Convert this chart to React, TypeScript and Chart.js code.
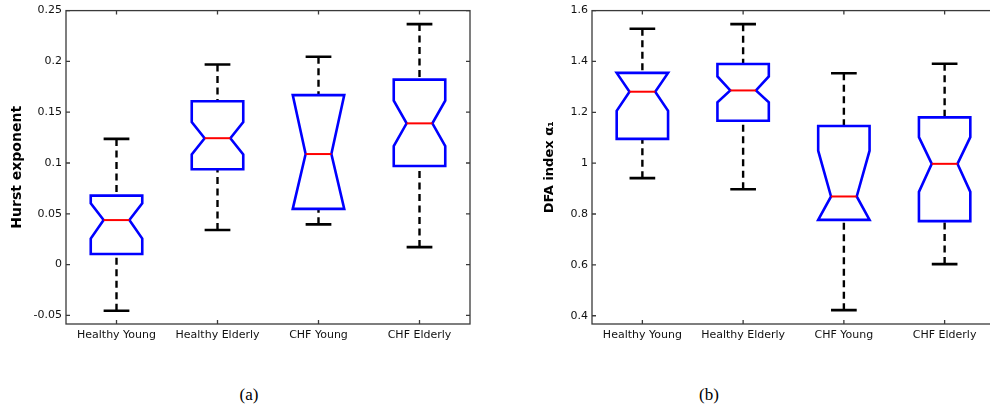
import React, { useEffect, useRef } from 'react';
import { Chart, registerables } from 'chart.js';

Chart.register(...registerables);

// ---------- data ----------
const categories = ['Healthy Young', 'Healthy Elderly', 'CHF Young', 'CHF Elderly'];

// (a) Hurst exponent
const hurstWhiskerLow = [-0.0455, 0.0341, 0.0396, 0.0172];
const hurstQ1 = [0.0104, 0.0938, 0.0548, 0.0971];
const hurstNotchLow = [0.0256, 0.1084, 0.05, 0.1166];
const hurstMedian = [0.0438, 0.1244, 0.1088, 0.139];
const hurstNotchHigh = [0.0604, 0.1402, 0.17, 0.1614];
const hurstQ3 = [0.0679, 0.1607, 0.1668, 0.1821];
const hurstWhiskerHigh = [0.1237, 0.197, 0.2045, 0.2367];

// (b) DFA index alpha1
const dfaWhiskerLow = [0.941, 0.8974, 0.422, 0.603];
const dfaQ1 = [1.0957, 1.167, 0.7769, 0.772];
const dfaNotchLow = [1.206, 1.2396, 0.69, 0.887];
const dfaMedian = [1.281, 1.286, 0.869, 0.9974];
const dfaNotchHigh = [1.356, 1.341, 1.049, 1.1023];
const dfaQ3 = [1.355, 1.39, 1.1463, 1.18];
const dfaWhiskerHigh = [1.5285, 1.5467, 1.3535, 1.391];

const hurstTicks = { min: -0.0585, max: 0.25, step: 0.05 };
const dfaTicks = { min: 0.3675, max: 1.6, step: 0.2 };

type Series = {
  lo: number[]; q1: number[]; nlo: number[]; med: number[]; nhi: number[]; q3: number[]; hi: number[];
};

const hurstSeries: Series = {
  lo: hurstWhiskerLow, q1: hurstQ1, nlo: hurstNotchLow, med: hurstMedian,
  nhi: hurstNotchHigh, q3: hurstQ3, hi: hurstWhiskerHigh,
};
const dfaSeries: Series = {
  lo: dfaWhiskerLow, q1: dfaQ1, nlo: dfaNotchLow, med: dfaMedian,
  nhi: dfaNotchHigh, q3: dfaQ3, hi: dfaWhiskerHigh,
};

// ---------- plugins ----------
function makeBoxPlugin(s: Series) {
  return {
    id: 'notchedBoxes',
    afterDatasetsDraw(chart: any) {
      const ctx = chart.ctx;
      const xs = chart.scales.x;
      const ys = chart.scales.y;
      const step = xs.getPixelForValue(1) - xs.getPixelForValue(0);
      const half = step * 0.255;
      const nh = half * 0.5;
      const cap = half * 0.5;
      ctx.save();
      for (let i = 0; i < categories.length; i++) {
        const xc = xs.getPixelForValue(i);
        const yq1 = ys.getPixelForValue(s.q1[i]);
        const yq3 = ys.getPixelForValue(s.q3[i]);
        const ymed = ys.getPixelForValue(s.med[i]);
        const ynlo = ys.getPixelForValue(Math.max(s.nlo[i], s.q1[i]));
        const ynhi = ys.getPixelForValue(Math.min(s.nhi[i], s.q3[i]));
        const ylo = ys.getPixelForValue(s.lo[i]);
        const yhi = ys.getPixelForValue(s.hi[i]);

        // whiskers (dashed)
        ctx.strokeStyle = '#000';
        ctx.lineWidth = 2.4;
        ctx.setLineDash([7, 4.5]);
        ctx.beginPath();
        ctx.moveTo(xc, yhi);
        ctx.lineTo(xc, yq3);
        ctx.moveTo(xc, ylo);
        ctx.lineTo(xc, yq1);
        ctx.stroke();
        ctx.setLineDash([]);
        // caps
        ctx.lineWidth = 2.6;
        ctx.beginPath();
        ctx.moveTo(xc - cap, yhi);
        ctx.lineTo(xc + cap, yhi);
        ctx.moveTo(xc - cap, ylo);
        ctx.lineTo(xc + cap, ylo);
        ctx.stroke();

        // notched box
        ctx.strokeStyle = '#0000ff';
        ctx.lineWidth = 2.6;
        ctx.lineJoin = 'miter';
        ctx.beginPath();
        ctx.moveTo(xc - half, yq1);
        ctx.lineTo(xc - half, ynlo);
        ctx.lineTo(xc - nh, ymed);
        ctx.lineTo(xc - half, ynhi);
        ctx.lineTo(xc - half, yq3);
        ctx.lineTo(xc + half, yq3);
        ctx.lineTo(xc + half, ynhi);
        ctx.lineTo(xc + nh, ymed);
        ctx.lineTo(xc + half, ynlo);
        ctx.lineTo(xc + half, yq1);
        ctx.closePath();
        ctx.stroke();

        // median
        ctx.strokeStyle = '#ff0000';
        ctx.lineWidth = 2;
        ctx.beginPath();
        ctx.moveTo(xc - nh, ymed);
        ctx.lineTo(xc + nh, ymed);
        ctx.stroke();
      }
      ctx.restore();
    },
  };
}

const framePlugin = {
  id: 'matlabFrame',
  afterDraw(chart: any) {
    const ctx = chart.ctx;
    const a = chart.chartArea;
    const xs = chart.scales.x;
    const ys = chart.scales.y;
    const tl = 4;
    ctx.save();
    ctx.strokeStyle = '#3a3a3a';
    ctx.lineWidth = 1.3;
    ctx.strokeRect(a.left, a.top, a.right - a.left, a.bottom - a.top);
    ctx.beginPath();
    ys.ticks.forEach((t: any) => {
      const y = ys.getPixelForValue(t.value);
      ctx.moveTo(a.left, y);
      ctx.lineTo(a.left + tl, y);
      ctx.moveTo(a.right, y);
      ctx.lineTo(a.right - tl, y);
    });
    categories.forEach((_, i) => {
      const x = xs.getPixelForValue(i);
      ctx.moveTo(x, a.bottom);
      ctx.lineTo(x, a.bottom - tl);
      ctx.moveTo(x, a.top);
      ctx.lineTo(x, a.top + tl);
    });
    ctx.stroke();
    ctx.restore();
  },
};

// ---------- chart component ----------
type PanelProps = {
  series: Series;
  range: { min: number; max: number; step: number };
  title: string;
  titleSize: number;
  titlePad: number;
  yAxisWidth: number;
  padRight: number;
  width: number;
  height: number;
  left: number;
};

const CHART_BOTTOM = 324;

function Panel(p: PanelProps) {
  const ref = useRef<HTMLCanvasElement | null>(null);
  useEffect(() => {
    if (!ref.current) return;
    const s = p.series;
    const chart = new Chart(ref.current, {
      type: 'bar',
      data: {
        labels: categories,
        datasets: [
          {
            data: categories.map((_, i) => [s.q1[i], s.q3[i]]) as any,
            backgroundColor: 'rgba(0,0,0,0)',
            borderWidth: 0,
          },
        ],
      },
      options: {
        responsive: false,
        animation: false,
        events: [],
        layout: { padding: { top: 7, right: p.padRight, left: 0, bottom: 0 } },
        plugins: { legend: { display: false }, tooltip: { enabled: false } },
        scales: {
          x: {
            grid: { display: false, drawTicks: false },
            border: { display: false },
            ticks: {
              font: { family: 'DejaVu Sans', size: 11 },
              color: '#111',
              padding: 5,
              maxRotation: 0,
              autoSkip: false,
            },
            afterFit: (sc: any) => {
              sc.height = p.height - CHART_BOTTOM;
            },
          },
          y: {
            min: p.range.min,
            max: p.range.max,
            grid: { display: false, drawTicks: false },
            border: { display: false },
            ticks: {
              stepSize: p.range.step,
              includeBounds: false,
              font: { family: 'DejaVu Sans', size: 11 },
              color: '#111',
              padding: 4,
              callback: (v: any) => String(parseFloat(Number(v).toFixed(2))),
            },
            title: {
              display: true,
              text: p.title,
              font: { family: 'DejaVu Sans', size: p.titleSize, weight: 'bold' },
              color: '#000',
              padding: { top: p.titlePad, bottom: 0 },
            },
            afterFit: (sc: any) => {
              sc.width = p.yAxisWidth;
            },
          },
        },
      } as any,
      plugins: [makeBoxPlugin(s), framePlugin],
    });
    return () => chart.destroy();
  }, []);
  return (
    <canvas
      ref={ref}
      width={p.width}
      height={p.height}
      style={{ position: 'absolute', left: p.left, top: 0, width: p.width, height: p.height, display: 'block' }}
    />
  );
}

const captionStyle = (cx: number): React.CSSProperties => ({
  position: 'absolute',
  left: cx - 30,
  width: 60,
  top: 385,
  textAlign: 'center',
  fontFamily: '"Liberation Serif", "Times New Roman", serif',
  fontSize: 17,
  lineHeight: '20px',
  color: '#000',
});

export default function App() {
  return (
    <div
      style={{
        position: 'fixed',
        left: 0,
        top: 0,
        width: 990,
        height: 410,
        overflow: 'hidden',
        background: '#fff',
      }}
    >
      <Panel
        series={hurstSeries}
        range={hurstTicks}
        title="Hurst exponent"
        titleSize={14}
        titlePad={9}
        yAxisWidth={66}
        padRight={10}
        width={480}
        height={360}
        left={0}
      />
      <Panel
        series={dfaSeries}
        range={dfaTicks}
        title="DFA index α₁"
        titleSize={13}
        titlePad={42}
        yAxisWidth={92}
        padRight={5}
        width={500}
        height={360}
        left={500}
      />
      <div style={captionStyle(249)}>(a)</div>
      <div style={captionStyle(709)}>(b)</div>
    </div>
  );
}
